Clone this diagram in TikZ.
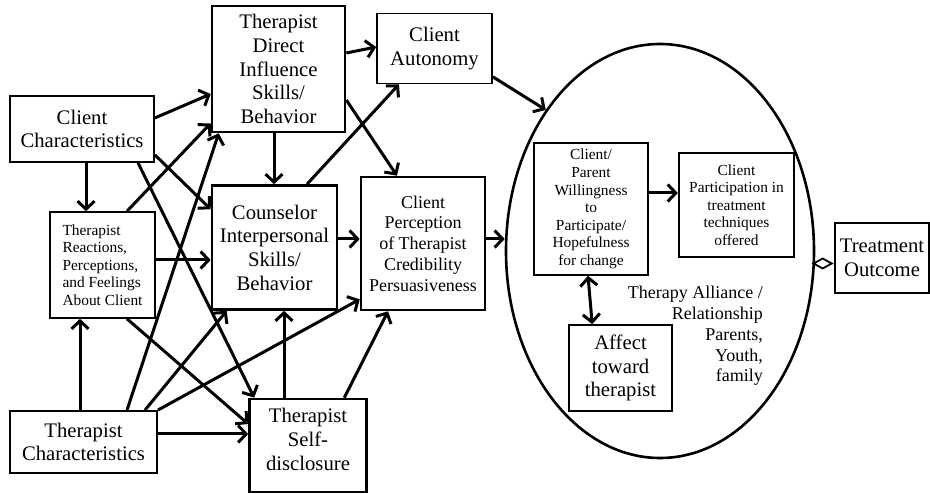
\documentclass[tikz,border=0pt]{standalone}
\usepackage{fontspec}
\setmainfont{Liberation Serif}
\usetikzlibrary{shapes.geometric,arrows.meta}

\begin{document}
\begin{tikzpicture}[
    x=1pt, y=-1pt,
    box/.style={draw, line width=1.6pt, align=center, inner sep=0pt, font=\fontsize{20.7}{23.7}\selectfont},
    thickbox/.style={box, line width=2.6pt},
    smallbox/.style={box, font=\fontsize{15.4}{17.6}\selectfont},
    midfont/.style={font=\fontsize{18}{20.8}\selectfont},
    arr/.style={line width=3pt, -{Straight Barb[length=8pt,width=17pt]}},
    dblarr/.style={line width=3pt, {Straight Barb[length=8pt,width=17pt]}-{Straight Barb[length=8pt,width=17pt]}}
]
    \useasboundingbox (0,0) rectangle (930,494);

    % Left column
    \node[box, minimum width=144, minimum height=66] (cc) at (82,129) {Client\\Characteristics};
    \node[smallbox, align=left, minimum width=105, minimum height=106] (tr) at (102.5,265) {Therapist\\Reactions,\\Perceptions,\\and Feelings\\About Client};
    \node[box, line width=1.9pt, minimum width=147, minimum height=62] (tc) at (83.5,442) {Therapist\\Characteristics};

    % Therapist behaviour
    \node[thickbox, minimum width=133, minimum height=126] (tdi) at (278.5,69) {Therapist\\Direct\\Influence\\Skills/\\Behavior};
    \node[thickbox, minimum width=125, minimum height=124] (cis) at (274.5,247.5) {Counselor\\Interpersonal\\Skills/\\Behavior};
    \node[thickbox, minimum width=117, minimum height=93, text depth=12pt] (tsd) at (308,445.5) {Therapist\\Self-\\disclosure};

    % Client side
    \node[box, minimum width=115, minimum height=70] (ca) at (434.5,48.5) {Client\\Autonomy};
    \node[thickbox, midfont, minimum width=124, minimum height=133] (cp) at (423,243.5) {Client\\Perception\\of Therapist\\Credibility\\Persuasiveness};

    % Alliance
    \node[draw, ellipse, line width=2.6pt, minimum width=308, minimum height=414, inner sep=0pt] (ell) at (660,251) {};
    \node[smallbox, minimum width=114, minimum height=132] (wb) at (591,209) {Client/\\Parent\\Willingness\\to\\Participate/\\Hopefulness\\for change};
    \node[smallbox, line width=2.4pt, minimum width=115, minimum height=104] (cpt) at (736.5,205) {Client\\Participation in\\treatment\\techniques\\offered};
    \node[box, minimum width=103, minimum height=86] (at) at (620.5,368) {Affect\\toward\\therapist};
    \node[midfont, align=right, anchor=east, inner sep=0pt] (ta) at (763,336) {Therapy Alliance /\\Relationship\\Parents,\\Youth,\\family};
    \node[thickbox, minimum width=94, minimum height=70] (to) at (882,258) {Treatment\\Outcome};

    % From client characteristics
    \draw[arr] ([yshift=11pt]cc.east) -- ([yshift=-25pt]tdi.west);
    \draw[arr] ([xshift=4pt]cc.south) -- ([xshift=4pt]cc.south |- tr.north);
    \draw[arr] ([yshift=8pt]cc.south east) -- ([yshift=-25pt]cis.north west);
    \draw[arr] ([xshift=56pt]cc.south) -- ([xshift=6pt]tsd.north west);

    % From therapist reactions
    \draw[arr] ([xshift=24.5pt]tr.north) -- ([yshift=10pt]tdi.south west);
    \draw[arr] ([yshift=5pt]tr.east) -- ([yshift=5pt]tr.east -| cis.west);
    \draw[arr] ([xshift=24.5pt]tr.south) -- ([yshift=21.5pt]tsd.west);

    % From therapist characteristics
    \draw[arr] ([xshift=-3.5pt]tc.north) -- ([xshift=-3.5pt]tc.north |- tr.south);
    \draw[arr] ([xshift=43.5pt]tc.north) -- ([xshift=8pt]tdi.south west);
    \draw[arr] ([xshift=61.5pt]tc.north) -- ([xshift=16pt]cis.south west);
    \draw[arr] (tc.north east) -- ([yshift=12pt]cp.south west);
    \draw[arr] ([yshift=8pt]tc.east) -- ([yshift=8pt]tc.east -| tsd.west);

    % Between therapist behaviours
    \draw[arr] ([xshift=-4.5pt]tdi.south) -- ([xshift=-4.5pt]tdi.south |- cis.north);
    \draw[arr] ([yshift=16pt]tdi.east) -- ([yshift=1.5pt]ca.west);
    \draw[arr] ([yshift=-31pt]tdi.east) -- ([xshift=-26pt]cp.north);
    \draw[arr] ([xshift=32.5pt]cis.north) -- ([xshift=-35.5pt]ca.south);
    \draw[arr] ([yshift=8.5pt]cis.east) -- ([yshift=8.5pt]cis.east -| cp.west);
    \draw[arr] ([xshift=-24pt]tsd.north) -- ([xshift=-24pt]tsd.north |- cis.south);
    \draw[arr] ([xshift=-23.5pt]tsd.north east) -- ([xshift=-35pt]cp.south);

    % Into the alliance
    \draw[arr] ([yshift=4.5pt]cp.east) -- ([yshift=4.5pt]cp.east -| ell.west);
    \draw[arr] ([yshift=7.5pt]ca.south east) -- (ell.129);
    \draw[arr] ([yshift=16pt]wb.east) -- ([yshift=16pt]wb.east -| cpt.west);
    \draw[dblarr] ([xshift=-3pt]wb.south) -- ([xshift=24pt]at.north west);
    \draw[line width=1.8pt, {Diamond[open,length=22pt,width=12pt]}-] ([yshift=-5.5pt]to.west) -- ([yshift=-5.5pt]to.west -| ell.east);
\end{tikzpicture}
\end{document}
